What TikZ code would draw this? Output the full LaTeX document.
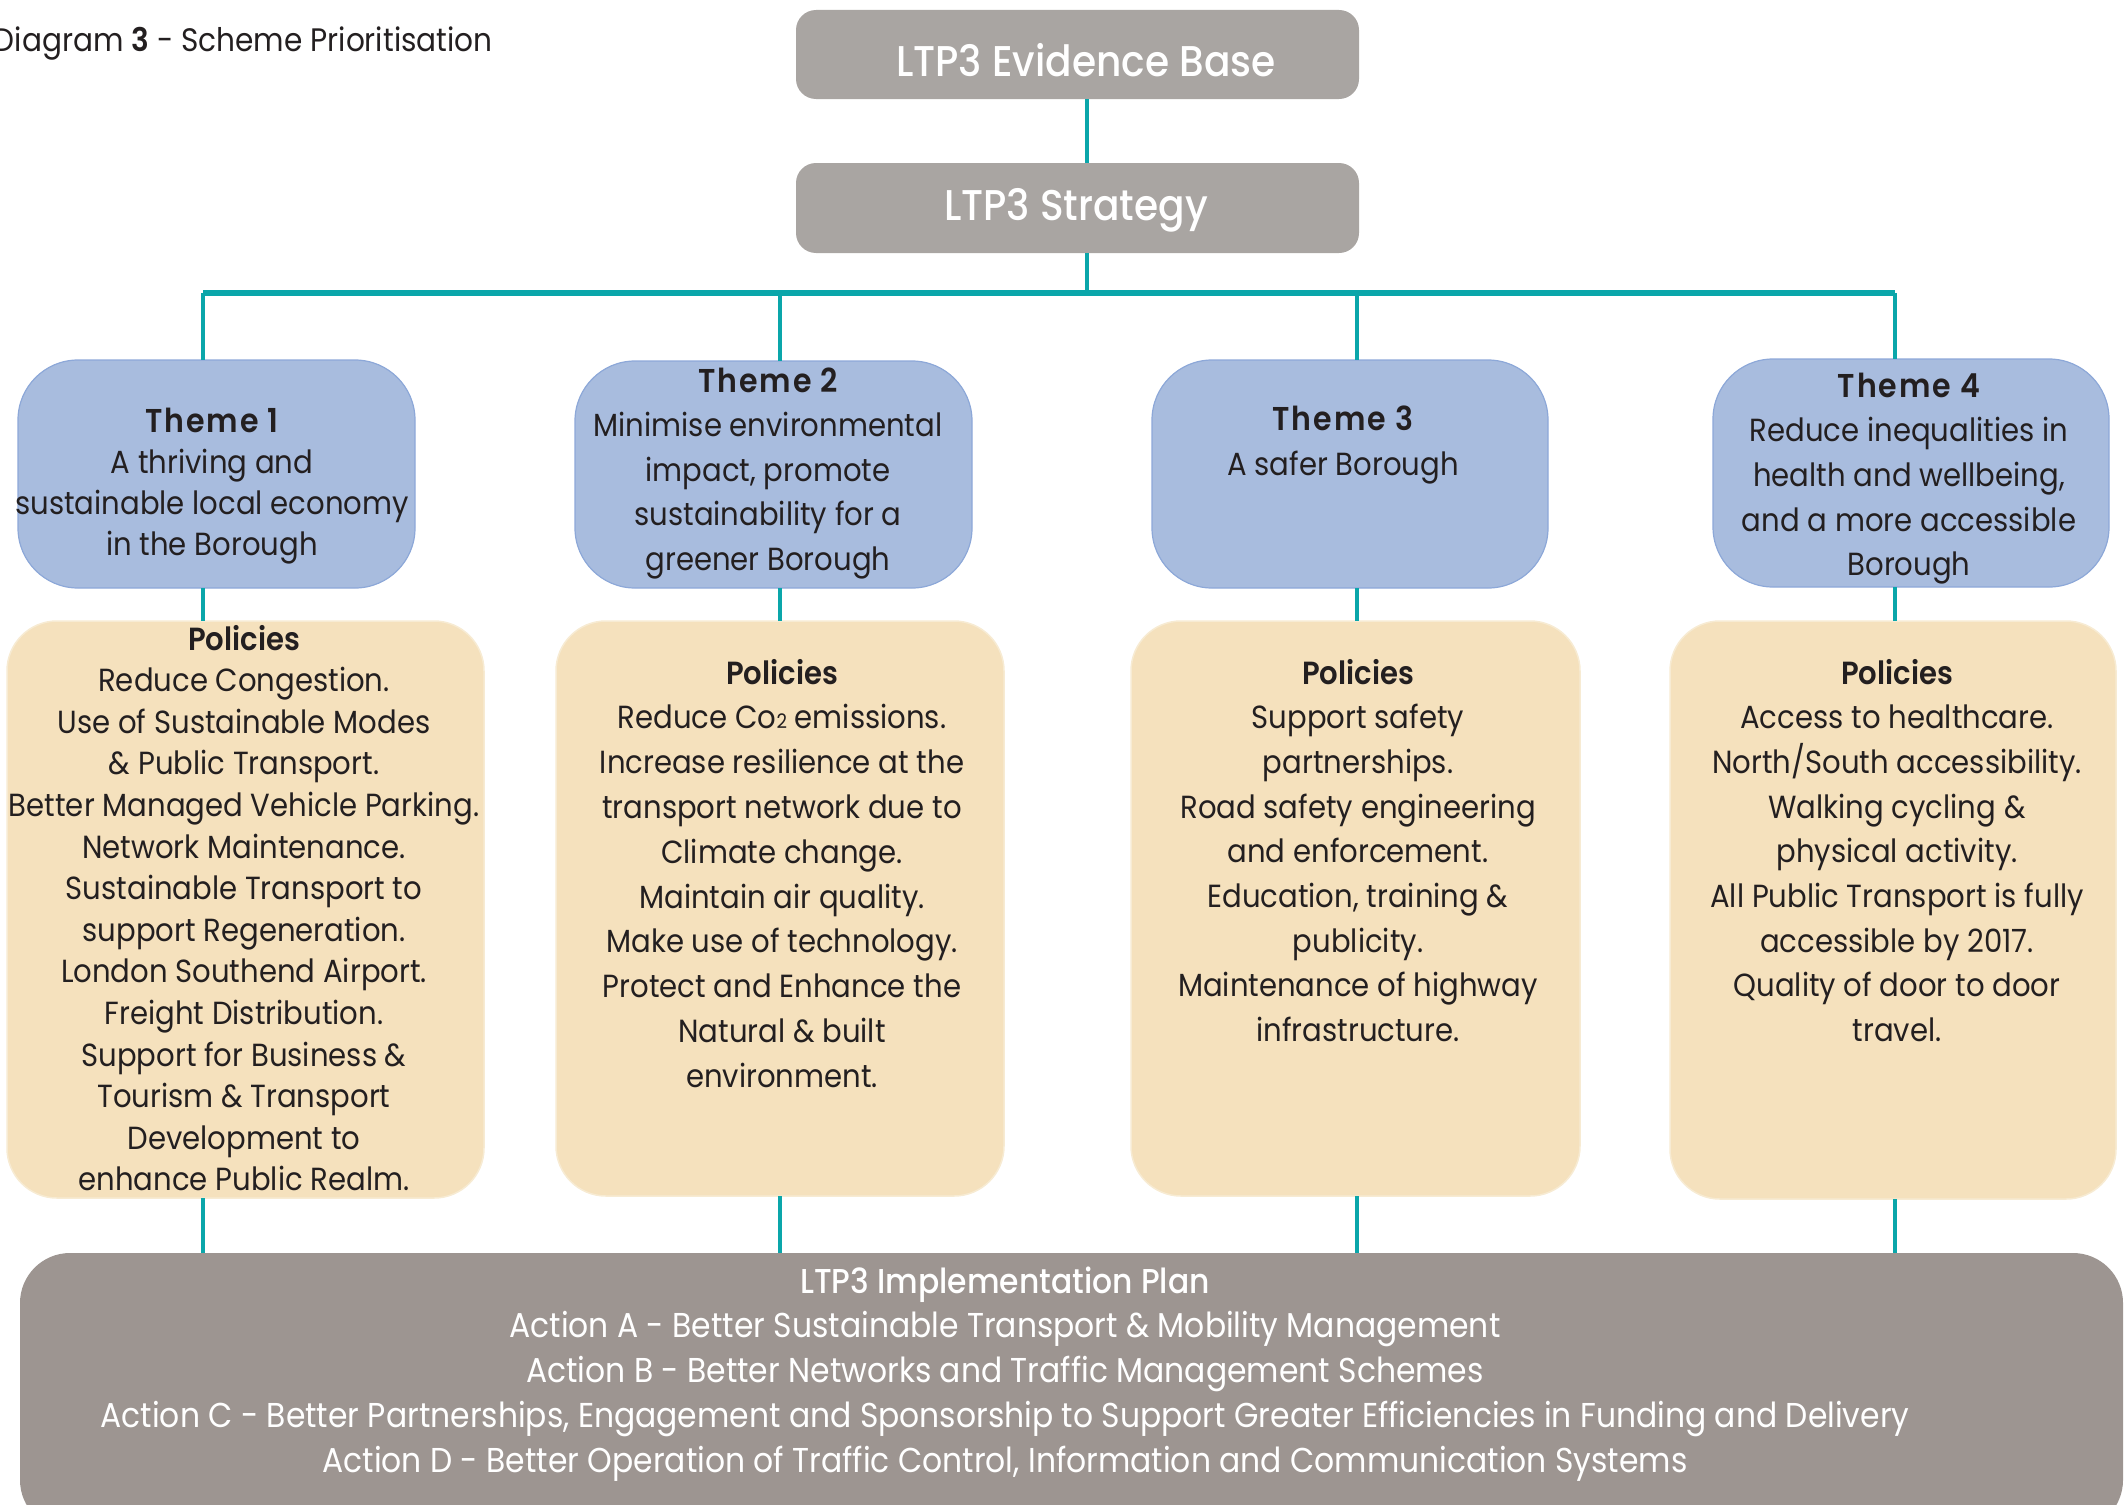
\documentclass[tikz,border=0pt]{standalone}
\usepackage{fontspec}
\setmainfont{Poppins}[FakeStretch=0.91,BoldFont={Poppins SemiBold}]
\newfontfamily\medfont{Poppins Medium}[FakeStretch=0.91]
\definecolor{topgray}{HTML}{A9A5A2}
\definecolor{implgray}{HTML}{9D9591}
\definecolor{themeblue}{HTML}{A8BCDE}
\definecolor{themeedge}{HTML}{8DA8D8}
\definecolor{polbeige}{HTML}{F5E1BD}
\definecolor{poledge}{HTML}{F7EBD3}
\definecolor{linkteal}{HTML}{0AA6AA}
\definecolor{textdark}{HTML}{231F20}
\newcommand{\ts}{\rule{0pt}{0.85em}}
\newcommand{\themehead}[1]{{\fontsize{33}{33}\bfseries\addfontfeature{LetterSpace=6}#1}}
\begin{document}
\begin{tikzpicture}[x=1pt,y=-1pt,
  every node/.style={inner sep=0pt,outer sep=0pt},
  graybox/.style={fill=topgray,draw=none,rounded corners=20pt},
  themebox/.style={fill=themeblue,draw=themeedge,line width=1.2pt,rounded corners=60pt},
  polbox/.style={fill=polbeige,draw=poledge,line width=1.5pt,rounded corners=50pt},
  implbox/.style={fill=implgray,draw=none,rounded corners=50pt},
  link/.style={draw=linkteal,line width=4.5pt},
  buslink/.style={draw=linkteal,line width=6pt},
  txt/.style={anchor=north,align=center,text=textdark},
  whitetxt/.style={text=white}]
\useasboundingbox (0,0) rectangle (2127,1504);
\clip (0,0) rectangle (2127,1504);

% coordinates for connector routes
\coordinate (bus) at (1087,293);
\coordinate (d1) at (203,293);
\coordinate (d2) at (780,293);
\coordinate (d3) at (1357,293);
\coordinate (d4) at (1895,293);

% boxes
\node[graybox,minimum width=563pt,minimum height=89pt] (ev) at (1077.5,54.5) {};
\node[graybox,minimum width=563pt,minimum height=90pt] (st) at (1077.5,208) {};
\node[themebox,minimum width=397pt,minimum height=228pt] (t1) at (216.5,474) {};
\node[themebox,minimum width=397pt,minimum height=227pt] (t2) at (773.5,474.5) {};
\node[themebox,minimum width=396pt,minimum height=228pt] (t3) at (1350,474) {};
\node[themebox,minimum width=396pt,minimum height=228pt] (t4) at (1911,473) {};
\node[polbox,minimum width=477pt,minimum height=577pt] (p1) at (245.5,909.5) {};
\node[polbox,minimum width=448pt,minimum height=575pt] (p2) at (780,908.5) {};
\node[polbox,minimum width=449pt,minimum height=575pt] (p3) at (1355.5,908.5) {};
\node[polbox,minimum width=446pt,minimum height=578pt] (p4) at (1893,910) {};
\node[implbox,minimum width=2103pt,minimum height=277pt] (impl) at (1071.5,1391.5) {};

% connectors
\draw[link] (ev.south -| bus) -- (st.north -| bus);
\draw[link] (st.south -| bus) -- (bus);
\draw[buslink] (d1) -- (d4);
\draw[link] (d1) -- (d1 |- t1.north);
\draw[link] (d2) -- (d2 |- t2.north);
\draw[link] (d3) -- (d3 |- t3.north);
\draw[link] (d4) -- (d4 |- t4.north);
\draw[link] (d1 |- t1.south) -- (d1 |- p1.north);
\draw[link] (d2 |- t2.south) -- (d2 |- p2.north);
\draw[link] (d3 |- t3.south) -- (d3 |- p3.north);
\draw[link] (d4 |- t4.south) -- (d4 |- p4.north);
\draw[link] (d1 |- p1.south) -- (d1 |- impl.north);
\draw[link] (d2 |- p2.south) -- (d2 |- impl.north);
\draw[link] (d3 |- p3.south) -- (d3 |- impl.north);
\draw[link] (d4 |- p4.south) -- (d4 |- impl.north);

% texts
\node[anchor=base west,text=textdark,font={\fontsize{32.5}{38}\selectfont}] (title) at (-6,52)
  {Diagram \textbf{3} - Scheme Prioritisation};
\node[anchor=base,whitetxt,font={\fontsize{43}{50}\medfont}] (evtxt) at (1086,77) {LTP3 Evidence Base};
\node[anchor=base,whitetxt,font={\fontsize{43}{50}\medfont}] (sttxt) at (1076,220) {LTP3 Strategy};

\node[txt,font={\fontsize{32}{41}\selectfont}] (t1txt) at (212,404.8)
  {\ts\themehead{Theme 1}\\A thriving and\\sustainable local economy\\in the Borough};
\node[txt,font={\fontsize{32}{44.5}\selectfont}] (t2txt) at (768,364.8)
  {\ts\themehead{Theme 2}\\Minimise environmental\\impact, promote\\sustainability for a\\greener Borough};
\node[txt,font={\fontsize{32}{45}\selectfont}] (t3txt) at (1343,402.8)
  {\ts\themehead{Theme 3}\\A safer Borough};
\node[txt,font={\fontsize{32}{44.7}\selectfont}] (t4txt) at (1909,369.8)
  {\ts\themehead{Theme 4}\\Reduce inequalities in\\health and wellbeing,\\and a more accessible\\Borough};

\node[txt,font={\fontsize{32}{41.6}\selectfont}] (p1txt) at (244,622.8)
  {\ts\textbf{Policies}\\Reduce Congestion.\\Use of Sustainable Modes\\\& Public Transport.\\Better Managed Vehicle Parking.\\Network Maintenance.\\Sustainable Transport to\\support Regeneration.\\London Southend Airport.\\Freight Distribution.\\Support for Business \&\\Tourism \& Transport\\Development to\\enhance Public Realm.};
\node[txt,font={\fontsize{32}{44.8}\selectfont}] (p2txt) at (782,656.8)
  {\ts\textbf{Policies}\\Reduce Co{\fontsize{20}{20}\selectfont 2} emissions.\\Increase resilience at the\\transport network due to\\Climate change.\\Maintain air quality.\\Make use of technology.\\Protect and Enhance the\\Natural \& built\\environment.};
\node[txt,font={\fontsize{32}{44.7}\selectfont}] (p3txt) at (1358,656.8)
  {\ts\textbf{Policies}\\Support safety\\partnerships.\\Road safety engineering\\and enforcement.\\Education, training \&\\publicity.\\Maintenance of highway\\infrastructure.};
\node[txt,font={\fontsize{32}{44.7}\selectfont}] (p4txt) at (1897,656.8)
  {\ts\textbf{Policies}\\Access to healthcare.\\North/South accessibility.\\Walking cycling \&\\physical activity.\\All Public Transport is fully\\accessible by 2017.\\Quality of door to door\\travel.};

\node[txt,text=white,font={\fontsize{34.5}{44.75}\selectfont}] (impltxt) at (1005,1263.7)
  {\ts{\medfont LTP3 Implementation Plan}\\Action A - Better Sustainable Transport \& Mobility Management\\Action B - Better Networks and Traffic Management Schemes\\Action C - Better Partnerships, Engagement and Sponsorship to Support Greater Efficiencies in Funding and Delivery\\Action D - Better Operation of Traffic Control, Information and Communication Systems};
\end{tikzpicture}
\end{document}
